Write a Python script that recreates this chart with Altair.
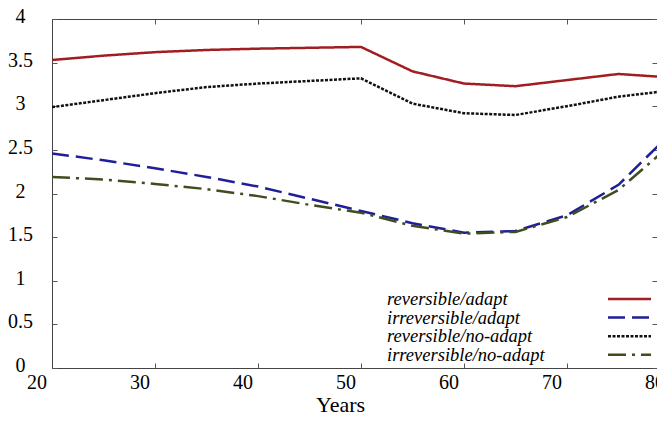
import altair as alt
import pandas as pd

years = [20, 25, 30, 35, 40, 45, 50, 55, 60, 65, 70, 75, 80]
rev_adapt = [3.53, 3.58, 3.62, 3.645, 3.66, 3.67, 3.68, 3.40, 3.26, 3.23, 3.30, 3.37, 3.33]
irr_adapt = [2.46, 2.38, 2.29, 2.19, 2.08, 1.94, 1.80, 1.66, 1.55, 1.57, 1.75, 2.10, 2.68]
rev_noadapt = [2.99, 3.07, 3.15, 3.22, 3.26, 3.29, 3.32, 3.03, 2.92, 2.90, 3.00, 3.11, 3.18]
irr_noadapt = [2.19, 2.16, 2.11, 2.05, 1.97, 1.87, 1.78, 1.63, 1.54, 1.56, 1.73, 2.04, 2.55]

series_names = ["reversible/adapt", "irreversible/adapt", "reversible/no-adapt", "irreversible/no-adapt"]
series_values = [rev_adapt, irr_adapt, rev_noadapt, irr_noadapt]
series_colors = ["#a11d21", "#1f1f99", "#111111", "#3f4d1f"]
series_dashes = [[1, 0], [17, 7], [3, 1.5], [18, 6, 3, 6]]

x_ticks = [20, 30, 40, 50, 60, 70, 80]
y_ticks = [0, 0.5, 1, 1.5, 2, 2.5, 3, 3.5, 4]

rows = []
for name, vals in zip(series_names, series_values):
    for yr, v in zip(years, vals):
        rows.append({"Years": yr, "value": v, "series": name})
df = pd.DataFrame(rows)
legend_df = pd.DataFrame({"series": series_names})

FONT = "Liberation Serif"
AX = "#444444"
TK = "#555555"

# the plot continues past the right edge of the picture: x=80 lies beyond it
xs = alt.Scale(domain=[20, 80], range=[0, 618], nice=False, zero=False)
ys = alt.Scale(domain=[0, 4], nice=False, zero=False)
cs = alt.Scale(domain=series_names, range=series_colors)
ds = alt.Scale(domain=series_names, range=series_dashes)
leg_y = alt.Y("series:N", axis=None,
              scale=alt.Scale(type="point", domain=series_names, range=[280, 335.7], padding=0))

lines = alt.Chart(df).mark_line(strokeWidth=2.5, clip=True).encode(
    x=alt.X("Years:Q", scale=xs, axis=alt.Axis(
        orient="bottom", domain=True, domainColor=AX, domainWidth=1,
        ticks=False, grid=False, values=x_ticks,
        format="d", labelFont=FONT, labelFontSize=20, labelColor="#000",
        labelOffset=-15.5, labelPadding=4, labelFlush=False, labelOverlap=False,
        title="Years", titleFont=FONT, titleFontSize=22, titleFontWeight="normal",
        titleColor="#000", titleX=288, titleY=43, titleBaseline="alphabetic",
        titleAlign="center")),
    y=alt.Y("value:Q", scale=ys, axis=alt.Axis(
        orient="left", domain=True, domainColor=AX, domainWidth=1,
        ticks=False, grid=False, values=y_ticks,
        format="~g", labelFont=FONT, labelFontSize=20, labelColor="#000",
        labelAlign="center", labelBaseline="middle", labelPadding=32,
        labelOffset=-2.5, labelFlush=False, labelOverlap=False, title=None)),
    color=alt.Color("series:N", scale=cs, legend=None),
    strokeDash=alt.StrokeDash("series:N", scale=ds, legend=None),
    order=alt.Order("Years:Q"),
)

tick_common = dict(domain=False, labels=False, grid=False, title=None, tickSize=5,
                   tickColor=TK, tickWidth=1, offset=-5)

ticks_a = alt.Chart(df).mark_point(opacity=0).encode(
    x=alt.X("Years:Q", scale=xs, axis=alt.Axis(orient="bottom", values=x_ticks, **tick_common)),
    y=alt.Y("value:Q", scale=ys, axis=alt.Axis(orient="left", values=y_ticks, **tick_common)),
)
ticks_b = alt.Chart(df).mark_point(opacity=0).encode(
    x=alt.X("Years:Q", scale=xs, axis=alt.Axis(orient="top", values=x_ticks, **tick_common)),
    y=alt.Y("value:Q", scale=ys, axis=alt.Axis(orient="right", values=y_ticks, **tick_common)),
)
top_border = alt.Chart(df).mark_point(opacity=0).encode(
    x=alt.X("Years:Q", scale=xs, axis=alt.Axis(
        orient="top", domain=True, domainColor=AX, domainWidth=1, ticks=False,
        labels=False, grid=False, title=None)),
    y=alt.Y("value:Q", scale=ys, axis=None),
)

leg_rules = alt.Chart(legend_df).mark_rule(strokeWidth=2.5).encode(
    x=alt.value(556), x2=alt.value(599), y=leg_y,
    color=alt.Color("series:N", scale=cs, legend=None),
    strokeDash=alt.StrokeDash("series:N", scale=ds, legend=None),
)
leg_text = alt.Chart(legend_df).mark_text(
    align="left", baseline="middle", font=FONT, fontStyle="italic", fontSize=18.5, color="#000"
).encode(x=alt.value(335), y=leg_y, text="series:N")

chart = alt.layer(lines, ticks_a, ticks_b, top_border, leg_rules, leg_text).resolve_axis(
    x="independent", y="independent"
).resolve_scale(y="independent").properties(
    width=605, height=349,
    padding={"left": 44, "top": 11, "right": 0, "bottom": 46},
    autosize=alt.AutoSizeParams(type="none"),
    background="white",
).configure_view(stroke=None)

chart.save("out.html", embed_options={"renderer": "svg", "actions": False})
